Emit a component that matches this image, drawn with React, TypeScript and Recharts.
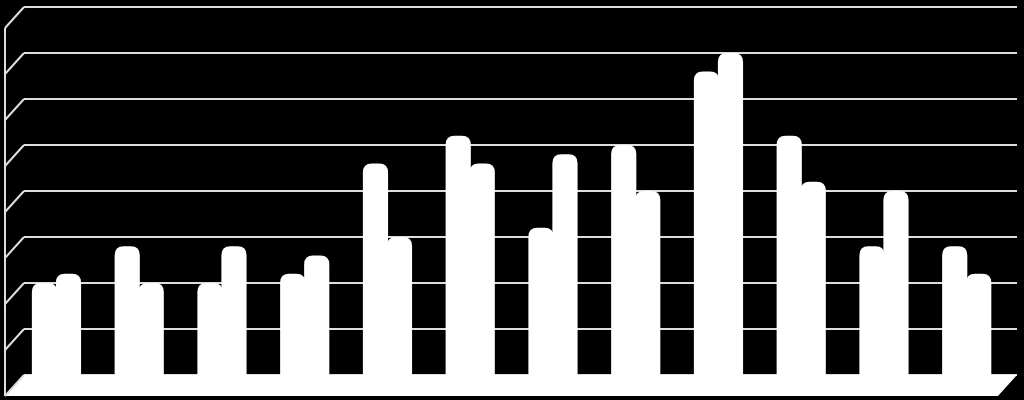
import { BarChart, Bar, XAxis, YAxis, CartesianGrid } from "recharts";

/* ── Data ── */
const categories = ["1", "2", "3", "4", "5", "6", "7", "8", "9", "10", "11", "12"];
const seriesA = [10, 14, 10, 11, 23, 26, 16, 25, 33, 26, 14, 14];
const seriesB = [11, 10, 14, 13, 15, 23, 24, 20, 35, 21, 20, 11];
const yTicks = [0, 5, 10, 15, 20, 25, 30, 35, 40];

const data = categories.map((c, i) => ({ name: c, a: seriesA[i], b: seriesB[i] }));

/* ── Layout / 3D look ── */
const W = 1024;
const H = 400;
const margin = { top: 7, right: 7, bottom: 25, left: 0 };
const AXIS_W = 24;
const DEPTH_X = 19;
const DEPTH_Y = 21;
const PLOT_LEFT = margin.left + AXIS_W;
const PLOT_RIGHT = W - margin.right;
const STEP = (H - margin.top - margin.bottom) / (yTicks.length - 1);
const LINE = "#dedede";

/* diagonal to the front edge, front edge segment, floor at 0 */
function DepthTick(props: any) {
  const { y, payload } = props;
  const fx = PLOT_LEFT - DEPTH_X;
  const isFloor = payload && payload.value === 0;
  return (
    <g>
      {isFloor && (
        <polygon
          points={`${PLOT_LEFT},${y} ${PLOT_RIGHT},${y} ${PLOT_RIGHT - DEPTH_X},${y + DEPTH_Y} ${fx},${y + DEPTH_Y}`}
          fill="#ffffff"
          stroke="none"
        />
      )}
      <line x1={PLOT_LEFT} y1={y} x2={fx} y2={y + DEPTH_Y} stroke={LINE} strokeWidth={2} />
      {!isFloor && (
        <line x1={fx} y1={y + DEPTH_Y} x2={fx} y2={y + DEPTH_Y + STEP} stroke={LINE} strokeWidth={2} />
      )}
    </g>
  );
}

function RoundBar(props: any) {
  const { x, y, width, height } = props;
  const bx = x - DEPTH_X / 2;
  const w = width + 1.2;
  const r = 9;
  const bottom = y + height + 8;
  const d = `M${bx},${bottom} L${bx},${y + r} Q${bx},${y} ${bx + r},${y} L${bx + w - r},${y} Q${bx + w},${y} ${bx + w},${y + r} L${bx + w},${bottom} Z`;
  return <path d={d} fill="#ffffff" />;
}

export default function App() {
  return (
    <div style={{ position: "absolute", left: 0, top: 0, width: W, height: H, background: "#000" }}>
      <BarChart width={W} height={H} data={data} margin={margin} barCategoryGap="21%" barGap={0}>
        <CartesianGrid vertical={false} stroke={LINE} strokeWidth={2} />
        <XAxis dataKey="name" hide />
        <YAxis
          width={AXIS_W}
          domain={[0, 40]}
          ticks={yTicks}
          interval={0}
          axisLine={false}
          tickLine={false}
          tick={<DepthTick />}
        />
        <Bar dataKey="a" shape={<RoundBar />} isAnimationActive={false} />
        <Bar dataKey="b" shape={<RoundBar />} isAnimationActive={false} />
      </BarChart>
    </div>
  );
}
